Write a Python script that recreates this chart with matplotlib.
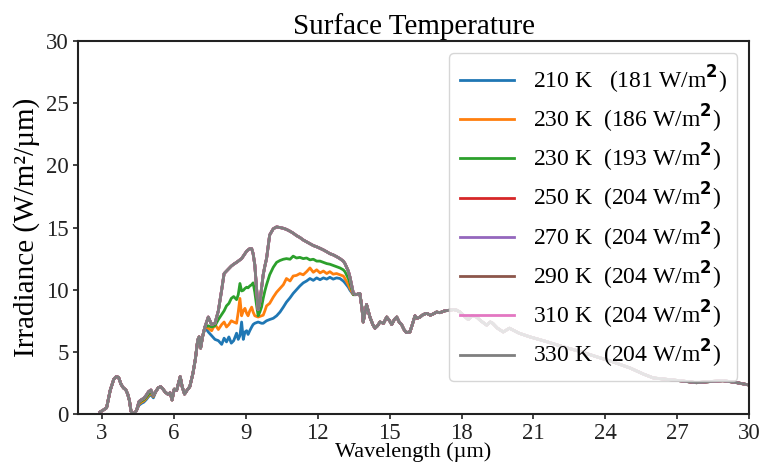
import numpy as np
import matplotlib
matplotlib.use("Agg")
import matplotlib.pyplot as plt

# Wavelength grid (µm) shared by every spectrum
wavelength = [
    2.92, 3.05, 3.2, 3.35, 3.5, 3.6, 3.7, 3.8, 3.9, 4.0, 4.08, 4.15, 4.22, 4.35,
    4.45, 4.55, 4.65, 4.75, 4.85, 4.95, 5.05, 5.15, 5.25, 5.35, 5.45, 5.55, 5.65,
    5.75, 5.85, 5.93, 6.02, 6.12, 6.2, 6.27, 6.35, 6.45, 6.55, 6.67, 6.8, 6.9,
    7.0, 7.06, 7.12, 7.2, 7.3,
    7.44, 7.58, 7.72, 7.86, 8.0, 8.1, 8.2, 8.3, 8.4, 8.5, 8.62, 8.69, 8.76, 8.83,
    8.9, 8.97, 9.04, 9.1, 9.17, 9.25, 9.31, 9.38, 9.45, 9.52, 9.59, 9.66, 9.73,
    9.8, 9.87, 10.0, 10.15, 10.29, 10.43, 10.57, 10.7, 10.85, 10.98, 11.12,
    11.26, 11.4, 11.54, 11.68, 11.82, 11.96, 12.1, 12.24, 12.38, 12.51, 12.65,
    12.79, 12.93, 13.07, 13.14, 13.28, 13.35, 13.49,
    13.6, 13.76, 13.85, 13.9, 14.04, 14.18, 14.3, 14.39, 14.5, 14.6, 14.75,
    14.88, 15.0, 15.09, 15.2, 15.3, 15.4, 15.5, 15.6, 15.7, 15.85, 15.95, 16.06,
    16.15, 16.27, 16.4, 16.55, 16.7, 16.82, 16.96, 17.1, 17.3, 17.52, 17.66,
    17.8, 17.94, 18.1, 18.28, 18.45, 18.63, 18.8, 19.05, 19.2, 19.3, 19.5,
    19.74, 20.0, 20.4, 20.86, 21.5, 22.25, 23.0, 23.64, 24.3, 25.03, 25.6, 26.0,
    26.5, 27.1, 27.8, 28.3, 28.9, 29.4, 30.0,
]

# Irradiance (W/m^2/µm) for the warm cases; 250-330 K share this spectrum
irr_warm = [
    0.15, 0.3, 0.5, 1.9, 2.8, 3.0, 2.95, 2.4, 2.1, 1.95, 1.6, 1.1, 0.2, 0.0,
    0.3, 1.0, 1.15, 1.26, 1.5, 1.8, 1.93, 1.5, 1.8, 2.1, 2.2, 2.0, 1.75,
    1.6, 1.7, 1.13, 2.0, 1.9, 2.5, 3.0, 2.2, 1.6, 1.9, 2.2, 3.27, 4.4,
    5.95, 6.2, 5.3, 6.2, 7.0,
    7.8, 7.2, 7.3, 8.3, 10.0, 11.3, 11.5, 11.7, 11.9, 12.05, 12.2, 12.3, 12.4, 12.5,
    12.7, 12.9, 13.1, 13.2, 13.3, 13.3, 12.9, 12.0, 10.2, 8.4, 9.0, 10.1, 11.2,
    11.9, 12.5, 14.4, 14.9, 15.05, 15.0, 14.94, 14.85, 14.7, 14.55, 14.35,
    14.2, 14.0, 13.85, 13.7, 13.55, 13.45, 13.33, 13.2, 13.05, 12.9, 12.8,
    12.66, 12.5, 12.3, 12.1, 11.5, 11.0, 9.7,
    9.6, 9.7, 8.5, 7.4, 8.8, 7.8, 7.2, 6.9, 7.1, 7.4, 7.3,
    7.8, 7.5, 7.2, 7.6, 7.8, 7.4, 7.2, 6.8, 6.55, 6.6, 7.2, 7.9,
    7.7, 7.8, 8.0, 8.1, 7.95, 8.05, 8.2, 8.15, 8.3, 8.35, 8.4,
    8.35, 8.2, 7.9, 7.6, 7.9, 7.8, 7.5, 7.15, 7.4, 7.3, 6.9,
    6.6, 6.9, 6.5, 6.2, 5.85, 5.4, 5.0, 4.6, 4.2, 3.7, 3.2, 2.9,
    2.8, 2.68, 2.52, 2.6, 2.68, 2.55, 2.33,
]

# Cooler cases differ in two bands: 4.55-5.15 µm and 7.44-13.49 µm
band_a = (4.55, 5.15)
band_b = (7.44, 13.49)

irr_210_a = [0.7, 0.85, 0.95, 1.15, 1.4, 1.55, 1.3]
irr_230a_a = [0.8, 0.95, 1.05, 1.25, 1.5, 1.65, 1.4]
irr_230b_a = [0.9, 1.05, 1.15, 1.35, 1.6, 1.75, 1.45]

irr_210_b = [
    6.6, 6.3, 6.0, 5.9, 5.6, 6.1, 5.8, 6.2, 5.7, 5.9, 6.5, 6.0, 6.3, 7.4,
    6.0, 6.6, 6.7, 6.4, 6.7, 7.0, 7.2, 7.3, 7.35, 7.4, 7.35, 7.3, 7.3,
    7.4, 7.5, 7.6, 7.7, 7.9, 8.2, 8.6, 9.0, 9.35, 9.7, 10.0,
    10.3, 10.55, 10.7, 10.9, 10.75, 10.95, 10.8, 10.95, 10.85, 11.0, 10.85,
    10.95, 10.9, 10.7, 10.55, 10.2, 9.95, 9.6,
]
irr_230a_b = [
    6.9, 6.7, 7.2, 6.8, 7.2, 7.4, 7.0, 7.2, 7.5, 7.4, 7.3, 8.2, 9.3, 7.9,
    8.3, 8.5, 8.1, 7.9, 8.3, 8.6, 8.2, 7.9, 7.85, 7.8, 7.85, 7.9, 7.95,
    8.3, 8.7, 8.9, 9.4, 9.8, 10.1, 10.4, 10.9, 10.7, 11.1, 11.15,
    11.3, 11.2, 11.45, 11.75, 11.4, 11.6, 11.35, 11.5, 11.3, 11.45, 11.25,
    11.3, 11.2, 11.1, 10.9, 10.4, 10.1, 9.6,
]
irr_230b_b = [
    7.1, 7.0, 7.1, 7.6, 8.0, 8.3, 8.7, 8.9, 9.3, 9.45, 9.2, 9.6, 10.5, 9.9,
    9.95, 10.1, 10.2, 10.15, 10.3, 10.4, 10.55, 9.8, 8.8, 7.9, 8.2, 8.6, 9.3,
    9.9, 10.4, 11.2, 11.8, 12.2, 12.35, 12.45, 12.5, 12.45, 12.7, 12.55,
    12.6, 12.5, 12.55, 12.4, 12.45, 12.3, 12.3, 12.2, 12.1, 12.05, 11.95,
    11.85, 11.75, 11.6, 11.45, 10.9, 10.5, 9.6,
]

temps = ["210", "230", "230", "250", "270", "290", "310", "330"]
fluxes = ["181", "186", "193", "204", "204", "204", "204", "204"]
gaps = ["   ", "  ", "  ", "  ", "  ", "  ", "  ", "  "]

x_ticks = [3, 6, 9, 12, 15, 18, 21, 24, 27, 30]
y_ticks = [0, 5, 10, 15, 20, 25, 30]

wl = np.array(wavelength)
base = np.array(irr_warm)
in_a = (wl >= band_a[0] - 1e-9) & (wl <= band_a[1] + 1e-9)
in_b = (wl >= band_b[0] - 1e-9) & (wl <= band_b[1] + 1e-9)


def spectrum(part_a, part_b):
    s = base.copy()
    s[in_a] = part_a
    s[in_b] = part_b
    return s


series = [
    spectrum(irr_210_a, irr_210_b),
    spectrum(irr_230a_a, irr_230a_b),
    spectrum(irr_230b_a, irr_230b_b),
    base, base, base, base, base,
]

plt.rcParams["font.family"] = ["Liberation Serif", "DejaVu Serif"]
plt.rcParams["mathtext.fontset"] = "dejavusans"

fig = plt.figure(figsize=(7.63, 4.67), dpi=100)
ax = fig.add_axes([0.102, 0.1135, 0.880, 0.7985])

colors = plt.rcParams["axes.prop_cycle"].by_key()["color"]
for i, (t, f, g, y) in enumerate(zip(temps, fluxes, gaps, series)):
    ax.plot(wl, y, color=colors[i], lw=2,
            label=f"{t} K{g}({f} W/m$\\mathbf{{^2}}$)")

ax.set_xlim(2, 30)
ax.set_ylim(0, 30)
ax.set_xticks(x_ticks)
ax.set_yticks(y_ticks)
ax.tick_params(axis="both", labelsize=16.5, colors="#222222", width=1.2, pad=3)
for sp in ax.spines.values():
    sp.set_linewidth(1.5)
    sp.set_color("#222222")

ax.set_title("Surface Temperature", fontsize=21, pad=5)
ax.set_xlabel("Wavelength (µm)", fontsize=16, labelpad=-1)
ax.set_ylabel("Irradiance (W/m²/µm)", fontsize=21, labelpad=4)

ax.legend(loc="upper right", fontsize=17, handlelength=2.3, handletextpad=0.8,
          labelspacing=0.3, borderpad=0.45)

fig.savefig("out.png", dpi=100)
